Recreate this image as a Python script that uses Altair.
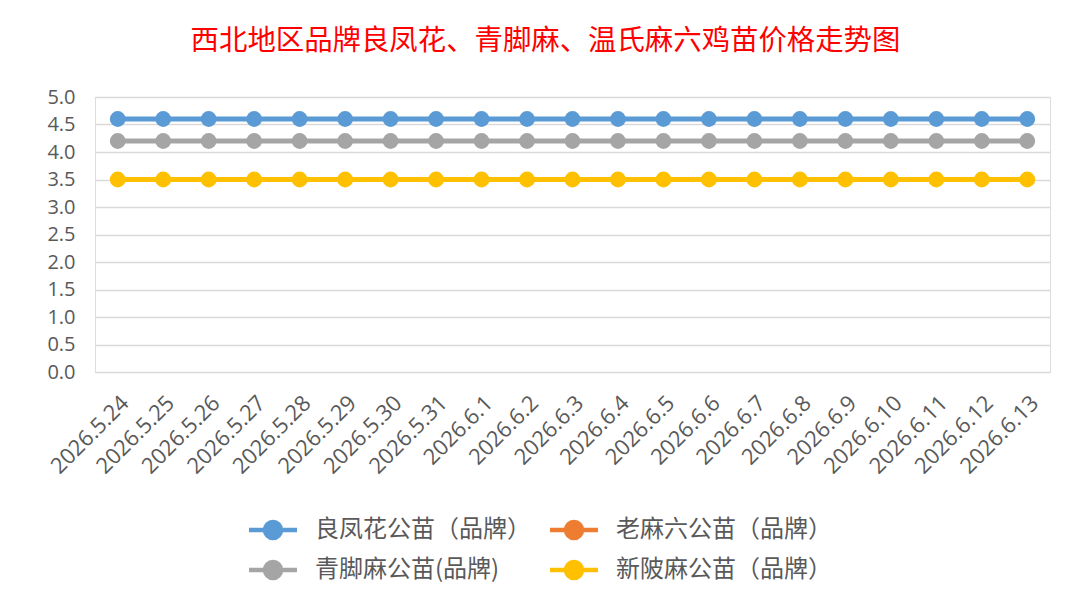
import altair as alt
import pandas as pd

dates = ["2026.5.24", "2026.5.25", "2026.5.26", "2026.5.27", "2026.5.28", "2026.5.29",
         "2026.5.30", "2026.5.31", "2026.6.1", "2026.6.2", "2026.6.3", "2026.6.4",
         "2026.6.5", "2026.6.6", "2026.6.7", "2026.6.8", "2026.6.9", "2026.6.10",
         "2026.6.11", "2026.6.12", "2026.6.13"]
# legend is laid out column by column: order chosen so rows read as in the reference
series_names = ["良凤花公苗（品牌）", "青脚麻公苗(品牌)", "老麻六公苗（品牌）", "新陂麻公苗（品牌）"]
series_colors = ["#5B9BD5", "#A5A5A5", "#ED7D31", "#FFC000"]
liangfenghua = [4.6] * len(dates)
qingjiaoma = [4.2] * len(dates)
laomaliu = [None] * len(dates)
xinbeima = [3.5] * len(dates)

rows = []
for name, vals in zip(series_names, [liangfenghua, qingjiaoma, laomaliu, xinbeima]):
    for d, v in zip(dates, vals):
        rows.append({"date": d, "series": name, "price": v})
df = pd.DataFrame(rows)

sym = ("M-1.17,0 L1.17,0 M-0.39,0 A0.39,0.39 0 1,1 0.39,0 A0.39,0.39 0 1,1 -0.39,0 Z")

chart = alt.Chart(df).mark_line(
    strokeWidth=5,
    point=alt.OverlayMarkDef(filled=True, size=250, opacity=1),
).encode(
    x=alt.X("date:N", sort=dates, title=None,
            scale=alt.Scale(type="point", padding=0.5),
            axis=alt.Axis(labelAngle=-45, labelFontSize=22, labelColor="#595959",
                          labelFont="Open Sans", domain=False, ticks=False,
                          labelPadding=20, grid=False)),
    y=alt.Y("price:Q", title=None,
            scale=alt.Scale(domain=[0, 5]),
            axis=alt.Axis(values=[0, 0.5, 1, 1.5, 2, 2.5, 3, 3.5, 4, 4.5, 5], format=".1f",
                          labelFontSize=20, labelColor="#595959", labelFont="Open Sans",
                          domain=False, ticks=False, labelPadding=20,
                          gridColor="#D9D9D9", gridWidth=1.5)),
    color=alt.Color("series:N", sort=series_names,
                    scale=alt.Scale(domain=series_names, range=series_colors),
                    legend=alt.Legend(title=None, orient="none", legendX=155, legendY=410,
                                      columns=2, symbolType=sym, symbolSize=1681,
                                      symbolStrokeWidth=4.5, labelFontSize=24,
                                      labelFont="Noto Sans CJK SC", labelColor="#595959",
                                      rowPadding=0, columnPadding=10, labelOffset=19,
                                      labelLimit=400)),
).properties(
    width=955,
    height=275,
    title=alt.Title("西北地区品牌良凤花、青脚麻、温氏麻六鸡苗价格走势图",
                    color="#FF0000", fontSize=28.4, font="Noto Sans CJK SC",
                    fontWeight="normal", anchor="middle", dx=-27, offset=31),
    padding={"left": 87, "top": 89, "right": 25, "bottom": 230},
    autosize=alt.AutoSizeParams(type="none"),
).configure_view(stroke=None).configure(background="white")

chart.save("out.html", embed_options={"renderer": "svg", "actions": False})
